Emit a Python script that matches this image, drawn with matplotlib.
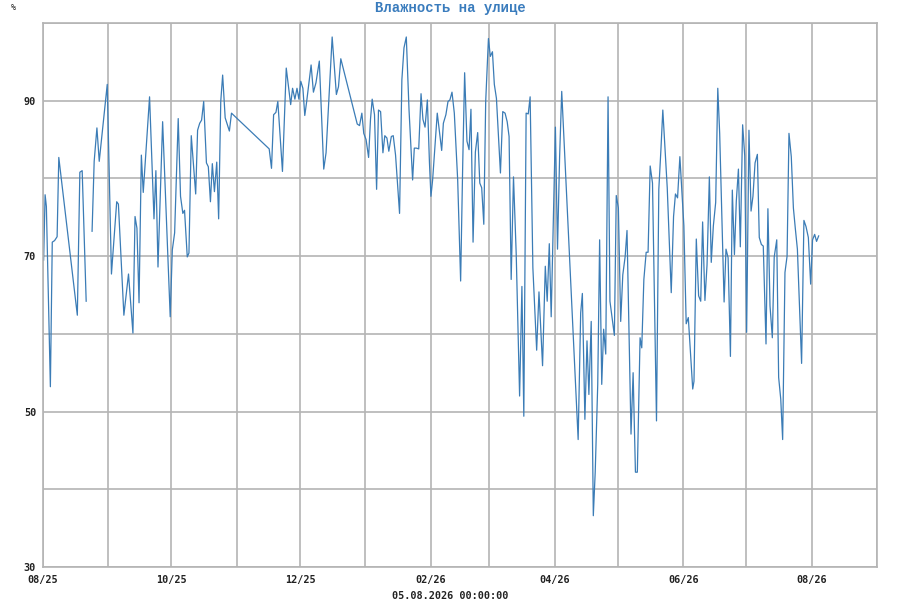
import numpy as np
import pandas as pd
import matplotlib
matplotlib.use("Agg")
import matplotlib.pyplot as plt
import matplotlib.dates as mdates
from matplotlib.ticker import FixedLocator

# Outdoor humidity (days since 2025-08-01, %)
days = [
    0.3, 1.0, 1.6, 3.5, 4.4, 5.5, 6.7, 7.5, 16.3, 17.5, 18.6, 20.5, 22.0,
    23.3, 24.3, 25.6, 26.7, 30.5, 32.5, 35.0, 35.8, 38.4, 40.6, 42.7, 43.7,
    44.6, 45.6, 46.7, 47.6, 50.6, 52.7, 53.6, 54.6, 56.8, 60.4, 61.4, 62.5,
    64.2, 65.3, 66.4, 67.2, 68.5, 69.3, 70.4, 72.5, 73.4, 74.4, 75.3, 76.3,
    77.6, 78.5, 79.5, 80.4, 81.4, 82.5, 83.4, 84.4, 85.3, 86.5, 88.5, 89.5,
    107.4, 108.5, 109.5, 110.6, 111.5, 113.7, 115.5, 117.6, 118.5, 119.6,
    120.6, 121.5, 122.4, 123.4, 124.3, 125.2, 127.3, 128.4, 129.6, 131.2,
    133.3, 134.4, 137.3, 139.3, 140.3, 141.4, 149.2, 150.3, 151.4, 152.3,
    153.4, 154.6, 155.5, 156.3, 157.4, 158.4, 159.3, 160.3, 161.4, 162.3,
    163.3, 164.2, 165.4, 166.3, 167.4, 169.3, 170.4, 171.4, 172.5, 173.8,
    175.5, 176.3, 177.3, 178.4, 179.5, 180.4, 181.4, 182.5, 183.5, 184.2,
    185.0, 187.2, 189.3, 190.1, 191.3, 192.3, 193.2, 194.2, 195.3, 196.9,
    198.3, 199.3, 200.2, 201.3, 202.3, 203.2, 204.2, 205.3, 206.4, 207.4,
    208.3, 209.3, 210.2, 211.5, 212.4, 213.4, 214.3, 215.3, 217.2, 218.3,
    219.4, 220.4, 221.3, 222.3, 223.4, 224.7, 226.3, 227.4, 228.3, 229.4,
    230.4, 231.3, 232.6, 234.4, 235.5, 237.2, 238.5, 239.4, 240.4, 241.3,
    243.3, 244.3, 245.3, 246.3, 254.1, 255.3, 256.1, 257.3, 258.3, 259.2,
    260.3, 261.3, 262.2, 263.4, 264.3, 265.3, 266.2, 267.2, 268.3, 269.2,
    271.3, 272.2, 273.2, 274.3, 275.3, 276.4, 277.3, 279.2, 280.2, 281.3,
    282.2, 283.5, 284.3, 285.3, 286.4, 287.3, 288.3, 289.4, 291.3, 292.4,
    293.4, 294.3, 296.4, 298.3, 299.4, 300.3, 301.3, 302.4, 304.3, 305.4,
    306.4, 308.5, 309.1, 310.2, 311.3, 312.3, 313.2, 314.3, 315.3, 316.4,
    317.3, 318.3, 319.4, 320.4, 321.3, 323.4, 324.3, 325.3, 326.4, 327.3,
    328.3, 329.2, 330.2, 331.1, 332.2, 333.2, 334.1, 335.2, 336.2, 337.1,
    338.1, 339.2, 340.1, 341.1, 342.0, 343.3, 344.2, 345.2, 346.3, 347.2,
    348.4, 349.3, 350.3, 351.2, 352.3, 353.3, 354.2, 355.3, 356.3, 357.2,
    358.2, 360.2, 361.3, 362.3, 363.4, 364.5, 365.4, 366.4, 367.3, 368.3,
]
humidity = [
    69.5, 77.9, 76.4, 53.2, 71.8, 72.0, 72.5, 82.7, 62.4, 80.8, 81.0, 64.2, np.nan,
    73.2, 82.2, 86.5, 82.2, 92.1, 67.7, 77.0, 76.7, 62.4, 67.7, 60.1, 75.1,
    73.6, 64.0, 83.0, 78.2, 90.5, 74.8, 81.0, 68.6, 87.3, 62.2, 70.8, 73.0,
    87.7, 77.7, 75.5, 75.9, 69.9, 70.4, 85.5, 78.0, 86.2, 87.1, 87.5, 89.9,
    82.0, 81.5, 77.0, 81.9, 78.3, 82.1, 74.8, 89.9, 93.3, 87.8, 86.1, 88.4,
    83.8, 81.3, 88.2, 88.5, 89.9, 80.9, 94.2, 89.5, 91.6, 90.2,
    91.6, 90.2, 92.5, 91.6, 88.1, 89.9, 94.6, 91.1, 92.3, 95.1,
    81.2, 83.3, 98.2, 90.8, 91.8, 95.4, 87.0, 86.8, 88.4, 85.8,
    85.0, 82.7, 87.6, 90.2, 88.2, 78.6, 88.8, 88.6, 83.3, 85.5,
    85.2, 83.5, 85.4, 85.5, 83.0, 75.5, 92.7, 96.8, 98.2, 88.8,
    79.8, 83.9, 83.9, 83.8, 90.9, 87.6, 86.6, 90.1, 82.0, 77.7,
    79.8, 88.4, 83.6, 87.1, 88.2, 89.9, 90.1, 91.1, 88.4, 79.8,
    66.8, 82.0, 93.6, 84.8, 83.7, 88.9, 71.8, 83.4, 85.9, 79.4,
    78.8, 74.1, 89.9, 98.0, 95.7, 96.3, 92.1, 90.3, 80.7, 88.6,
    88.4, 87.3, 85.4, 67.0, 80.2, 70.2, 52.0, 66.1, 49.4, 88.4,
    88.3, 90.5, 68.5, 57.9, 65.4, 55.9, 68.7, 64.2, 71.6, 62.2,
    86.6, 70.9, 82.8, 91.2, 46.4, 62.7, 65.2, 49.0, 59.1, 52.2,
    61.6, 36.6, 42.2, 53.5, 72.1, 53.5, 60.6, 57.4, 90.5, 64.2,
    59.8, 77.8, 76.2, 61.6, 67.6, 69.9, 73.3, 47.1, 55.0, 42.2,
    42.2, 59.5, 58.2, 67.0, 70.5, 70.5, 81.6, 79.4, 48.8, 78.6,
    83.7, 88.8, 78.8, 65.3, 75.1, 78.0, 77.5, 82.8, 73.9, 61.3,
    62.1, 52.9, 53.9, 72.2, 64.9, 64.2, 74.4, 64.3, 68.9, 80.2,
    69.2, 73.9, 76.9, 91.6, 85.8, 64.1, 70.9, 69.8, 57.1, 78.5,
    70.2, 77.1, 81.2, 71.2, 86.9, 82.9, 60.2, 86.2, 75.8, 77.7,
    82.0, 83.1, 72.4, 71.5, 71.3, 58.7, 76.1, 63.6, 59.5, 69.9,
    72.1, 54.4, 51.6, 46.4, 67.9, 70.0, 85.8, 82.8, 76.2, 73.6,
    70.9, 56.2, 74.6, 73.8, 72.4, 66.4, 72.1, 72.8, 71.9, 72.6,
]

start = pd.Timestamp("2025-08-01")
x_end = pd.Timestamp("2026-09-01")
y_labeled = [30, 50, 70, 90]
y_grid_only = [40, 60, 80, 100]
title = "Влажность на улице"
footer = "05.08.2026 00:00:00"

times = start + pd.to_timedelta(days, unit="D")

grid_col = "#b4b4b4"
line_col = "#3b7cb6"
tick_font = dict(family="DejaVu Sans Mono", size=7.3, weight="bold")

fig = plt.figure(figsize=(9, 6), dpi=100)
ax = fig.add_axes([43 / 900, 33 / 600, 834 / 900, 544 / 600])

ax.plot(times, humidity, color=line_col, lw=0.9)

ax.set_xlim(start, x_end)
ax.set_ylim(30, 100)

ax.yaxis.set_major_locator(FixedLocator(y_labeled))
ax.yaxis.set_minor_locator(FixedLocator(y_grid_only))
ax.xaxis.set_major_locator(mdates.MonthLocator(bymonth=[2, 4, 6, 8, 10, 12]))
ax.xaxis.set_minor_locator(mdates.MonthLocator())
ax.xaxis.set_major_formatter(mdates.DateFormatter("%m/%y"))

ax.grid(True, which="both", color=grid_col, lw=1.2)
ax.set_axisbelow(True)
for s in ax.spines.values():
    s.set_color(grid_col)
    s.set_linewidth(1.2)

ax.tick_params(which="both", length=0)
ax.tick_params(axis="x", pad=6)
ax.tick_params(axis="y", pad=5)
for lab in ax.get_xticklabels() + ax.get_yticklabels():
    lab.set_fontfamily(tick_font["family"])
    lab.set_fontsize(tick_font["size"])
    lab.set_fontweight(tick_font["weight"])
    lab.set_color("#222222")

fig.text(0.5, 1 - 8 / 600, title, ha="center", va="center",
         family="Liberation Mono", weight="bold", size=10, color="#3a7cbd")
fig.text(13 / 900, 1 - 7 / 600, "%", ha="center", va="center",
         family="DejaVu Sans Mono", size=6, color="#222222")
fig.text(0.5, 1 - 596 / 600, footer, ha="center", va="center", **tick_font,
         color="#222222")

fig.savefig("out.png", dpi=100)
